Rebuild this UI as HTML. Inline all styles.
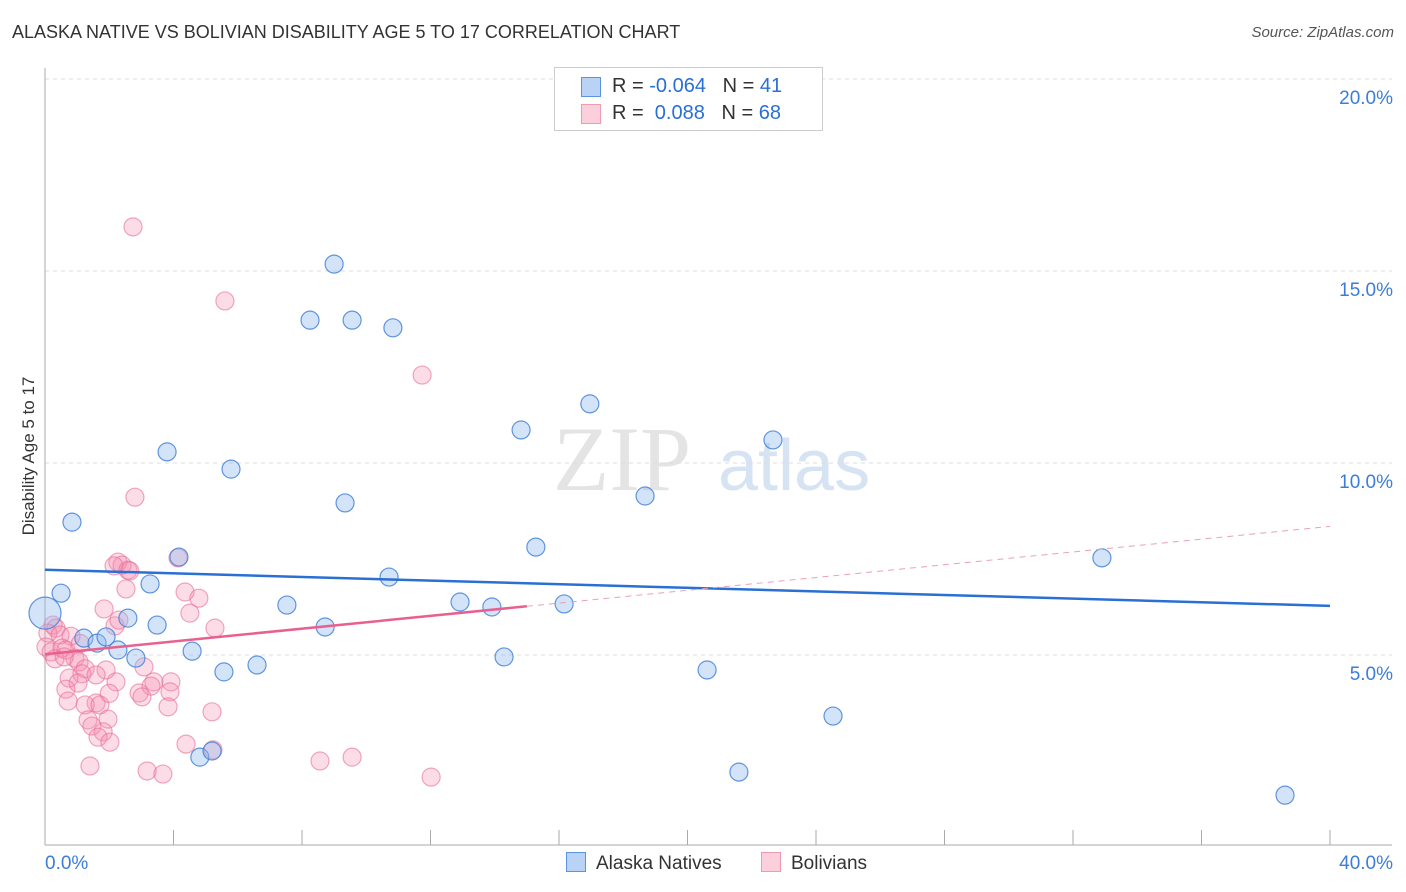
<!DOCTYPE html>
<html><head><meta charset="utf-8">
<style>
body{margin:0;background:#fff;font-family:"Liberation Sans",sans-serif;}
#wrap{position:relative;width:1406px;height:892px;overflow:hidden;}
.t{position:absolute;white-space:nowrap;}
</style></head>
<body>
<div id="wrap">
<div class="t" style="left:12px;top:22px;font-size:18px;color:#333;">ALASKA NATIVE VS BOLIVIAN DISABILITY AGE 5 TO 17 CORRELATION CHART</div>
<div class="t" style="right:12px;top:24px;font-size:15px;color:#555;font-style:italic;">Source: ZipAtlas.com</div>
<svg id="svg" width="1406" height="892" style="position:absolute;left:0;top:0"></svg>
</div>
<script>
const blueX=[0,0.84,0.5,1.21,1.62,1.9,2.27,2.58,2.83,3.27,3.49,3.8,4.17,4.58,4.82,5.2,5.57,5.79,6.6,7.53,8.25,8.72,9.0,9.34,9.56,10.71,10.83,12.92,13.91,14.29,14.82,15.28,16.16,16.96,18.68,20.61,21.6,22.66,24.53,32.9,38.6];
const blueY=[6.09,8.46,6.61,5.44,5.31,5.47,5.13,5.96,4.92,6.85,5.78,10.29,7.55,5.1,2.34,2.5,4.56,9.84,4.74,6.3,13.72,5.73,15.18,8.96,13.72,7.03,13.52,6.38,6.25,4.95,10.86,7.81,6.33,11.54,9.14,4.61,1.95,10.6,3.41,7.53,1.35];
const pinkX=[2.74,5.6,11.74,2.8,4.14,2.27,2.4,2.15,2.58,2.64,2.52,4.36,4.79,1.84,4.51,2.18,2.3,5.29,0.25,0.34,0.09,0.47,0.81,0.03,0.19,0.53,0.65,0.31,0.93,1.06,3.08,1.9,1.25,1.15,1.59,0.75,1.03,2.21,3.39,3.92,3.3,0.65,2.93,3.89,3.02,0.72,1.59,1.25,1.71,3.83,5.2,1.96,1.34,1.46,1.81,1.65,2.02,4.39,5.23,9.56,8.56,1.4,3.18,3.67,12.02,0.6,1.1,2.0];
const pinkY=[16.15,14.22,12.29,9.11,7.53,7.42,7.34,7.32,7.21,7.19,6.72,6.64,6.48,6.2,6.09,5.76,5.91,5.7,5.78,5.7,5.57,5.52,5.49,5.21,5.08,5.18,5.13,4.9,4.92,4.82,4.69,4.61,4.64,4.51,4.48,4.4,4.27,4.3,4.3,4.3,4.19,4.11,4.01,4.04,3.91,3.8,3.75,3.7,3.7,3.65,3.52,3.33,3.31,3.15,3.0,2.86,2.73,2.68,2.53,2.34,2.24,2.11,1.98,1.9,1.82,4.95,5.3,4.0];
const yTicks=[5,10,15,20];
const xEnds=[0,40];
const blueTrend=[7.22,6.28];
const pinkTrend=[5.02,8.35];
const pinkSolidEnd=15;

const X=v=>45+v*32.125, Y=v=>847-v*38.4;
const svg=document.getElementById('svg');
const NS='http://www.w3.org/2000/svg';
function mk(tag,a,name){const e=document.createElementNS(NS,tag);for(const k in a)e.setAttribute(k,a[k]);


svg.appendChild(e);return e;}
let w=mk('text',{x:553,y:490,'font-size':92,'font-family':'Liberation Serif',fill:'#e4e4e4'},'watermark-zip');w.textContent='ZIP';
w=mk('text',{x:718,y:490,'font-size':72,'font-family':'Liberation Sans',fill:'#d6e3f3'},'watermark-atlas');w.textContent='atlas';
yTicks.forEach(t=>{mk('line',{x1:45,x2:1392,y1:Y(t),y2:Y(t),stroke:'#ddd','stroke-dasharray':'4,4'},'gridline');
const l=mk('text',{x:1393,y:Y(t)+25,'text-anchor':'end','font-size':19,fill:'#3b7dd8'},'y-tick-label');l.textContent=t.toFixed(1)+'%';});
mk('line',{x1:45,x2:45,y1:68,y2:845,stroke:'#aaa'},'y-axis');
mk('line',{x1:45,x2:1392,y1:845,y2:845,stroke:'#aaa'},'x-axis');
for(let i=0;i<=10;i++)mk('line',{x1:X(i*4),x2:X(i*4),y1:830,y2:845,stroke:'#aaa'},'x-tick');
let t=mk('text',{x:45,y:869,'font-size':19,fill:'#3b7dd8'},'x-tick-label');t.textContent=xEnds[0].toFixed(1)+'%';
t=mk('text',{x:1393,y:869,'text-anchor':'end','font-size':19,fill:'#3b7dd8'},'x-tick-label');t.textContent=xEnds[1].toFixed(1)+'%';
t=mk('text',{x:34,y:456,'font-size':17,fill:'#333','text-anchor':'middle',transform:'rotate(-90 34 456)'},'y-axis-title');t.textContent='Disability Age 5 to 17';
pinkX.forEach((x,i)=>mk('circle',{cx:X(x),cy:Y(pinkY[i]),r:9,fill:'rgba(244,143,177,0.3)',stroke:'rgba(232,110,150,0.6)','stroke-width':1.2},'bolivian-point'));
blueX.forEach((x,i)=>mk('circle',{cx:X(x),cy:Y(blueY[i]),r:i==0?16:9,fill:'rgba(144,186,238,0.4)',stroke:'rgba(60,125,215,0.8)','stroke-width':1.2},'alaska-native-point'));
const pv=x=>pinkTrend[0]+(pinkTrend[1]-pinkTrend[0])*x/40;
mk('line',{x1:X(0),y1:Y(blueTrend[0]),x2:X(40),y2:Y(blueTrend[1]),stroke:'#2a6fd4','stroke-width':2.5},'alaska-native-trend');
mk('line',{x1:X(0),y1:Y(pv(0)),x2:X(pinkSolidEnd),y2:Y(pv(pinkSolidEnd)),stroke:'#e8608f','stroke-width':2.5},'bolivian-trend');
mk('line',{x1:X(pinkSolidEnd),y1:Y(pv(pinkSolidEnd)),x2:X(40),y2:Y(pv(40)),stroke:'#e8a0b8','stroke-width':1,'stroke-dasharray':'6,5'},'bolivian-trend-extension');
</script>
<div class="t" style="left:554px;top:67px;width:267px;height:62px;border:1px solid #ccc;background:#fff;">
<div style="position:absolute;left:26px;top:9px;width:18px;height:18px;background:#b8d3f5;border:1px solid #5b93dd;"></div>
<div style="position:absolute;left:26px;top:36px;width:18px;height:18px;background:#fbd0dc;border:1px solid #ee9ab5;"></div>
<div class="t" style="left:57px;top:7px;font-size:20px;color:#333;">R = <span style="color:#2a6fd4">-0.064</span>&nbsp;&nbsp;&nbsp;N = <span style="color:#2a6fd4">41</span></div>
<div class="t" style="left:57px;top:34px;font-size:20px;color:#333;">R = &nbsp;<span style="color:#2a6fd4">0.088</span>&nbsp;&nbsp;&nbsp;N = <span style="color:#2a6fd4">68</span></div>
</div>
<div class="t" style="left:566px;top:852px;font-size:19px;color:#333;"><span style="display:inline-block;width:18px;height:18px;background:#b8d3f5;border:1px solid #5b93dd;vertical-align:-3px;margin-right:10px"></span>Alaska Natives</div>
<div class="t" style="left:761px;top:852px;font-size:19px;color:#333;"><span style="display:inline-block;width:18px;height:18px;background:#fbd0dc;border:1px solid #ee9ab5;vertical-align:-3px;margin-right:10px"></span>Bolivians</div>
</body></html>
